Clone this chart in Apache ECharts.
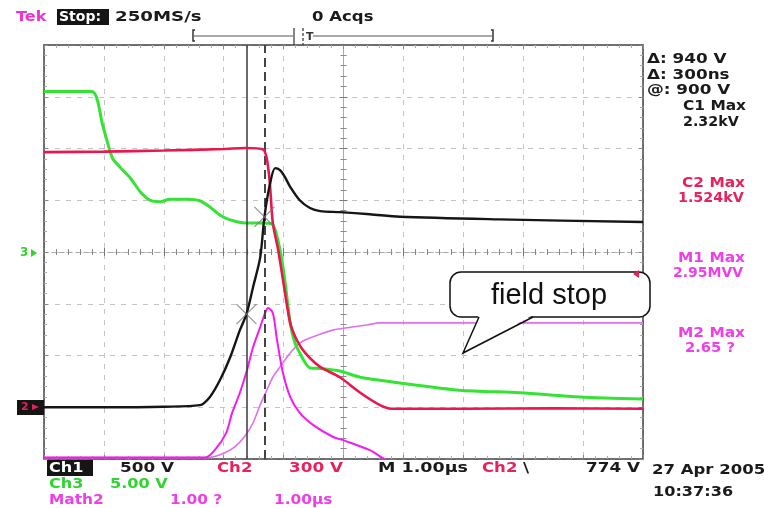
<!DOCTYPE html>
<html><head><meta charset="utf-8">
<script src="https://cdn.jsdelivr.net/npm/echarts@6/dist/echarts.min.js"></script>
<style>html,body{margin:0;padding:0;background:#fff}#c{width:764px;height:508px}</style>
</head><body><div id="c"></div>
<script>
// time in µs (1 µs/div, 0 = screen centre), amplitude in screen divisions
const ch1Points = [[-5.00,-3.00],[-4.00,-3.00],[-3.00,-2.99],[-2.40,-2.96],[-2.23,-2.80],[-2.06,-2.47],[-1.89,-2.03],[-1.73,-1.51],[-1.62,-1.20],[-1.51,-0.68],[-1.39,-0.10],[-1.32,0.68],[-1.23,1.30],[-1.14,1.62],[-1.06,1.58],[-0.98,1.45],[-0.89,1.26],[-0.73,1.00],[-0.56,0.85],[-0.39,0.79],[-0.06,0.77],[0.44,0.73],[0.94,0.68],[2.60,0.63],[5.00,0.58]];
const ch2Points = [[-5.00,1.93],[-4.00,1.94],[-3.00,1.96],[-2.00,1.99],[-1.64,2.01],[-1.34,1.98],[-1.28,1.80],[-1.23,1.33],[-1.18,0.56],[-1.09,0.04],[-1.01,-0.54],[-0.89,-1.37],[-0.78,-1.70],[-0.64,-1.95],[-0.39,-2.22],[-0.06,-2.42],[0.28,-2.72],[0.61,-2.96],[0.80,-3.03],[2.00,-3.03],[3.50,-3.02],[5.00,-3.03]];
const ch3Points = [[-5.00,3.10],[-4.20,3.10],[-4.02,2.45],[-3.86,1.82],[-3.73,1.64],[-3.56,1.43],[-3.39,1.16],[-3.23,1.00],[-3.06,0.97],[-2.90,1.02],[-2.60,1.02],[-2.40,0.99],[-2.23,0.87],[-2.06,0.71],[-1.89,0.62],[-1.64,0.56],[-1.39,0.56],[-1.19,0.54],[-1.06,0.04],[-0.98,-0.54],[-0.89,-1.37],[-0.81,-1.76],[-0.73,-1.95],[-0.64,-2.14],[-0.56,-2.24],[-0.39,-2.25],[-0.06,-2.30],[0.28,-2.42],[0.94,-2.53],[1.94,-2.67],[2.95,-2.72],[3.95,-2.80],[5.00,-2.84]];
const math1Points = [[-5.00,-3.97],[-2.31,-3.97],[-2.15,-3.83],[-1.96,-3.50],[-1.86,-3.11],[-1.73,-2.72],[-1.61,-2.28],[-1.51,-1.84],[-1.39,-1.45],[-1.31,-1.18],[-1.26,-1.08],[-1.18,-1.18],[-1.11,-1.70],[-1.01,-2.34],[-0.89,-2.80],[-0.73,-3.11],[-0.51,-3.34],[-0.18,-3.57],[0.03,-3.65],[0.44,-3.83],[0.61,-3.95],[0.75,-4.05]];
const math2Points = [[-5.00,-3.97],[-2.25,-3.97],[-2.15,-3.95],[-1.98,-3.88],[-1.81,-3.76],[-1.64,-3.55],[-1.51,-3.30],[-1.39,-2.95],[-1.28,-2.67],[-1.18,-2.42],[-1.06,-2.22],[-0.89,-1.95],[-0.73,-1.76],[-0.51,-1.64],[-0.18,-1.51],[0.03,-1.47],[0.39,-1.41],[0.61,-1.37],[0.94,-1.37],[5.00,-1.37]];
const cursorTimes = [-1.62, -1.32];
const cursorMarks = [[-1.62,-1.20],[-1.32,0.68]];

const GRID = {left:44, top:45, width:599, height:414};
const F = '"DejaVu Sans"';
function frameX(pos, split){return {type:'value',min:-5,max:5,interval:1,position:pos,
  axisLine:{onZero:false,lineStyle:{color:'#444',width:1.5}},
  axisTick:{show:true,inside:true,length:4,lineStyle:{color:'#888'}},
  minorTick:{show:true,splitNumber:5,length:3,lineStyle:{color:'#aaa'}},
  axisLabel:{show:false},splitLine:{show:split,lineStyle:{color:'#c4c4c4',type:[5,6]}}};}
function frameY(pos, split){return {type:'value',min:-4,max:4,interval:1,position:pos,
  axisLine:{onZero:false,lineStyle:{color:'#444',width:1.5}},
  axisTick:{show:true,inside:true,length:4,lineStyle:{color:'#888'}},
  minorTick:{show:true,splitNumber:5,length:3,lineStyle:{color:'#aaa'}},
  axisLabel:{show:false},splitLine:{show:split,lineStyle:{color:'#c4c4c4',type:[5,6]}}};}
function centerX(pos){return {type:'value',min:-5,max:5,interval:1,position:pos,
  axisLine:{onZero:true,onZeroAxisIndex:0,lineStyle:{color:'#aaa',type:[4,4]}},
  axisTick:{show:true,inside:true,length:4,lineStyle:{color:'#777'}},
  minorTick:{show:true,splitNumber:5,length:3,lineStyle:{color:'#888'}},
  axisLabel:{show:false},splitLine:{show:false}};}
function centerY(pos){return {type:'value',min:-4,max:4,interval:1,position:pos,
  axisLine:{onZero:true,onZeroAxisIndex:0,lineStyle:{color:'#aaa'}},
  axisTick:{show:true,inside:true,length:4,lineStyle:{color:'#777'}},
  minorTick:{show:true,splitNumber:5,length:3,lineStyle:{color:'#888'}},
  axisLabel:{show:false},splitLine:{show:false}};}

function txt(x,y,text,fill,sx,font){return {type:'text',x:x,y:y,z:100,scaleX:sx||1.15,
  style:{text:text,fill:fill,font:font||('bold 14px '+F),verticalAlign:'middle'}};}
const MAG='#ee3fe6', RED='#e8215a', GRN='#2fd42f', BLK='#1a1a1a';

const graphics = [
  txt(16,17,'Tek','#f030d8',1.15),
  {type:'rect',z:99,shape:{x:57,y:9,width:52,height:16},style:{fill:'#151515'}},
  txt(59,17,'Stop:','#fff',1.0),
  txt(115,17,'250MS/s',BLK,1.3),
  txt(312,17,'0 Acqs',BLK,1.18),
  // record bar
  {type:'polyline',z:100,shape:{points:[[195,30],[193,30],[193,41],[195,41]]},style:{stroke:'#333',lineWidth:1.5,fill:null}},
  {type:'line',z:100,shape:{x1:194,y1:36,x2:293,y2:36},style:{stroke:'#555',lineWidth:1.2}},
  {type:'line',z:100,shape:{x1:294,y1:28,x2:294,y2:45},style:{stroke:'#333',lineWidth:1.2}},
  {type:'line',z:100,shape:{x1:303,y1:28,x2:303,y2:45},style:{stroke:'#333',lineWidth:1.2,lineDash:[3,2]}},
  txt(306,37,'T','#333',1,'bold 11px '+F),
  {type:'line',z:100,shape:{x1:313,y1:36,x2:492,y2:36},style:{stroke:'#555',lineWidth:1.2}},
  {type:'polyline',z:100,shape:{points:[[491,30],[493,30],[493,41],[491,41]]},style:{stroke:'#333',lineWidth:1.5,fill:null}},
  // right readouts
  txt(647,59,'Δ: 940 V',BLK,1.2),
  txt(647,75,'Δ: 300ns',BLK,1.2),
  txt(647,90,'@: 900 V',BLK,1.2),
  txt(683,106,'C1 Max',BLK,1.1),
  txt(683,122,'2.32kV',BLK,1.02),
  txt(682,183,'C2 Max',RED,1.1),
  txt(678,198,'1.524kV',RED,1.02),
  txt(678,258,'M1 Max',MAG,1.1),
  txt(673,273,'2.95MVV',MAG,1.0),
  txt(678,333,'M2 Max',MAG,1.1),
  txt(685,348,'2.65 ?',MAG,1.05),
  // bottom readouts
  {type:'rect',z:99,shape:{x:47,y:460,width:46,height:16},style:{fill:'#151515'}},
  txt(49,468,'Ch1','#fff',1.15),
  txt(120,468,'500 V',BLK,1.2),
  txt(217,468,'Ch2',RED,1.18),
  txt(289,468,'300 V',RED,1.2),
  txt(378,468,'M 1.00µs',BLK,1.25),
  txt(482,468,'Ch2',RED,1.18),
  txt(523,468,'\\',BLK,1.2),
  txt(586,468,'774 V',BLK,1.2),
  txt(652,470,'27 Apr 2005',BLK,1.18),
  txt(653,492,'10:37:36',BLK,1.15),
  txt(49,484,'Ch3',GRN,1.15),
  txt(110,484,'5.00 V',GRN,1.15),
  txt(49,500,'Math2',MAG,1.1),
  txt(170,500,'1.00 ?',MAG,1.1),
  txt(274,500,'1.00µs',MAG,1.1),
  // channel markers
  txt(20,253,'3',GRN,1,'bold 12px '+F),
  {type:'polygon',z:100,shape:{points:[[31,249],[37,253],[31,257]]},style:{fill:GRN}},
  {type:'rect',z:99,shape:{x:17,y:400,width:27,height:15},style:{fill:'#151515'}},
  txt(21,407,'2',RED,1,'bold 11px '+F),
  {type:'polygon',z:100,shape:{points:[[32,404],[39,407],[32,410]]},style:{fill:RED}},
  // callout
  {type:'rect',z:100,shape:{x:450,y:272,width:200,height:45,r:11},style:{fill:'#fff',stroke:'#111',lineWidth:1.5}},
  {type:'polygon',z:101,shape:{points:[[479,315],[463,353],[533,315]]},style:{fill:'#fff'}},
  {type:'polyline',z:102,shape:{points:[[479,317],[463,353],[533,317]]},style:{stroke:'#111',lineWidth:1.5,fill:null}},
  {type:'text',z:103,x:549,y:296,style:{text:'field stop',fill:'#111',font:'29px "Liberation Sans"',align:'center',verticalAlign:'middle'}},
  {type:'polygon',z:104,shape:{points:[[639,270],[633,274],[639,278]]},style:{fill:RED}}
];

const chart = echarts.init(document.getElementById('c'));
chart.setOption({
  animation:false,
  backgroundColor:'#fff',
  grid:GRID,
  xAxis:[frameX('bottom',true),frameX('top',false),centerX('bottom'),centerX('top')],
  yAxis:[frameY('left',true),frameY('right',false),centerY('left'),centerY('right')],
  series:[
    {type:'line',name:'Math2',data:math2Points,showSymbol:false,smooth:0.3,lineStyle:{color:'#e070ec',width:1.6},z:3},
    {type:'line',name:'Math1',data:math1Points,showSymbol:false,smooth:0.3,lineStyle:{color:'#f21cf0',width:2},z:3},
    {type:'line',name:'Ch3',data:ch3Points,showSymbol:false,smooth:0.25,lineStyle:{color:'#34e334',width:3},z:4},
    {type:'line',name:'Ch2',data:ch2Points,showSymbol:false,smooth:0.25,lineStyle:{color:'#e8184e',width:2.6},z:5},
    {type:'line',name:'Ch1',data:ch1Points,showSymbol:false,smooth:0.3,lineStyle:{color:'#161616',width:2.4},z:6,
      markLine:{silent:true,symbol:'none',label:{show:false},animation:false,
        data:[{xAxis:cursorTimes[0],lineStyle:{type:'solid',color:'#3a3a3a',width:1.5}},
              {xAxis:cursorTimes[1],lineStyle:{type:[9,5],color:'#444',width:2}}]}},
    {type:'scatter',name:'cursors',data:cursorMarks,symbol:'path://M0,0L10,10M10,0L0,10',symbolSize:20,
      itemStyle:{color:'none',borderColor:'#777',borderWidth:1.2},z:7}
  ],
  graphic:graphics
});
</script></body></html>
